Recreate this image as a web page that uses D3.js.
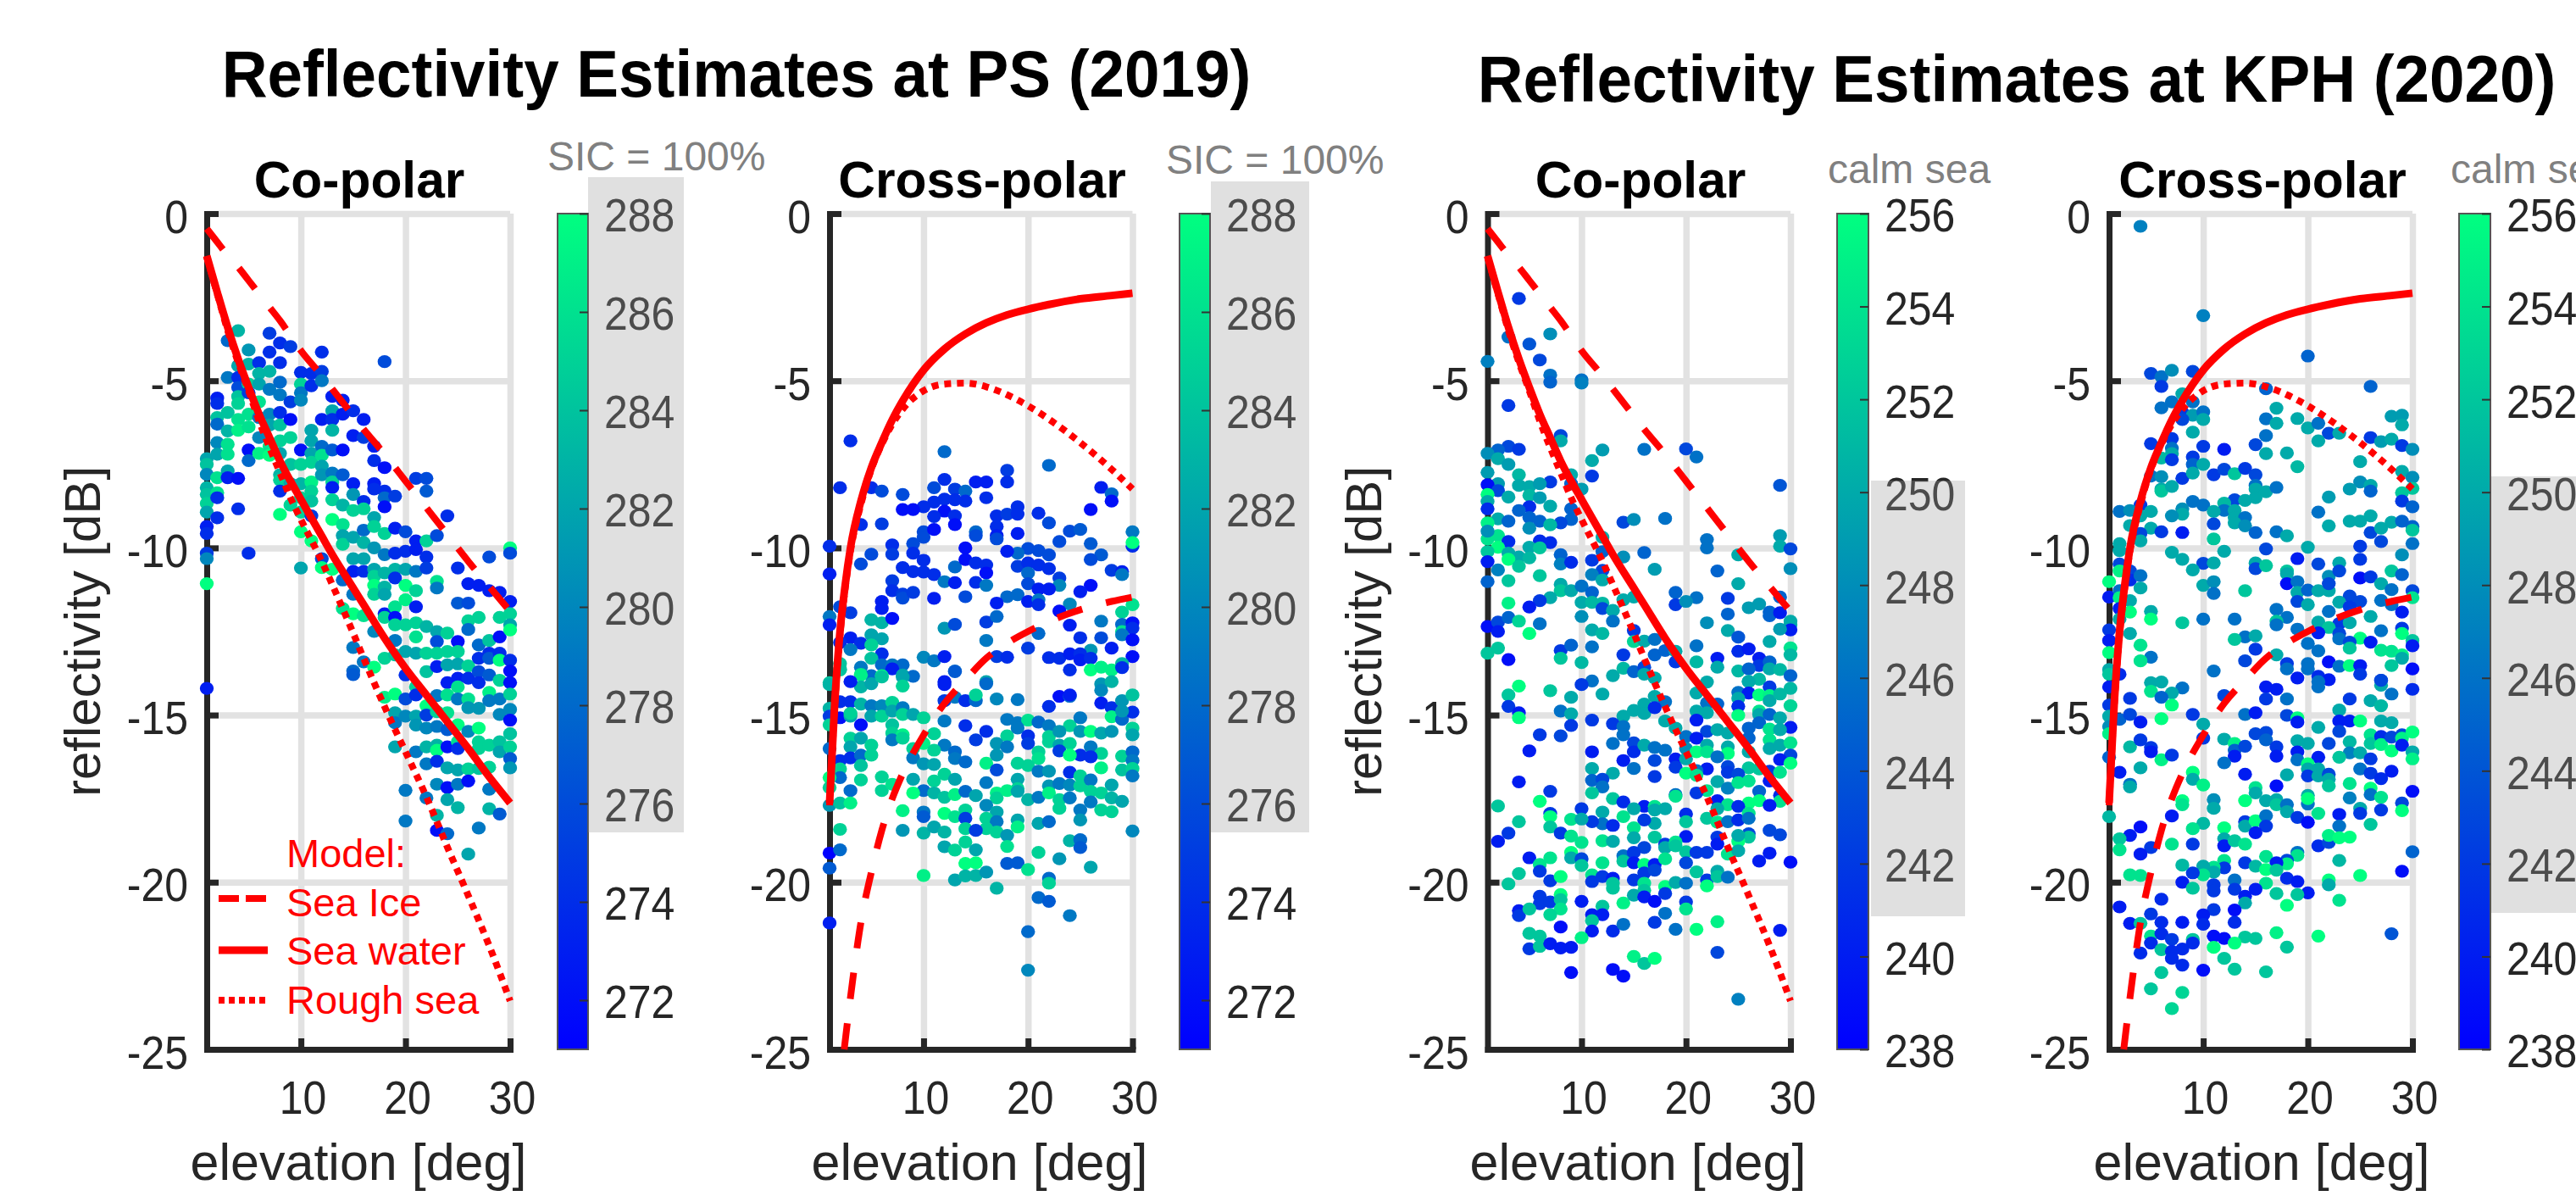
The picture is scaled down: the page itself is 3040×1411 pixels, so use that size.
<!DOCTYPE html>
<html>
<head>
<meta charset="utf-8">
<title>Reflectivity Estimates</title>
<script src="https://cdn.jsdelivr.net/npm/d3@7"></script>
<style>
  html, body { margin: 0; padding: 0; background: #fff; overflow: hidden; }
  svg { display: block; font-family: "Liberation Sans", Arial, sans-serif; }
</style>
</head>
<body>
<svg id="chart" width="3040" height="1411"></svg>
<script>
// axis ticks
const elevTicks = [10, 20, 30];
const reflTicks = [0, -5, -10, -15, -20, -25];
const psTempTicks = [272, 274, 276, 278, 280, 282, 284, 286, 288];
const kphTempTicks = [238, 240, 242, 244, 246, 248, 250, 252, 254, 256];

// model curves, co-polar
const coElev = [1, 2, 3, 4, 5, 6, 7, 8, 9, 10, 12, 13, 15, 16, 18, 20, 22, 24, 26, 28, 30];
const coSeaIce = [-0.45, -0.85, -1.25, -1.6, -2.0, -2.4, -2.8, -3.2, -3.65, -4.1, -4.85, -5.25, -6.05, -6.45, -7.2, -8.0, -8.8, -9.6, -10.4, -11.15, -11.9];
const coSeaWater = [-1.26, -2.35, -3.4, -4.35, -5.2, -6.0, -6.7, -7.4, -8.0, -8.55, -9.65, -10.2, -11.2, -11.7, -12.7, -13.6, -14.4, -15.2, -16.0, -16.85, -17.63];
const coRoughSea = [-1.3, -2.4, -3.5, -4.45, -5.3, -6.2, -7.0, -7.75, -8.5, -9.15, -10.4, -11.1, -12.55, -13.3, -14.75, -16.1, -17.45, -18.95, -20.4, -21.9, -23.55];

// model curves, cross-polar
const crossElev = [1, 1.5, 2, 2.5, 3, 4, 5, 6, 7, 8, 10, 12, 14, 16, 18, 20, 22, 25, 28, 30];
const crossSeaWater = [-17.63, -14.6, -12.5, -11.1, -10, -8.6, -7.6, -6.85, -6.17, -5.6, -4.68, -4.05, -3.6, -3.27, -3.03, -2.86, -2.72, -2.55, -2.45, -2.38];
const crossRoughSea = [-17.7, -14.7, -12.6, -11.2, -10.1, -8.7, -7.65, -6.9, -6.3, -5.85, -5.3, -5.1, -5.07, -5.18, -5.42, -5.75, -6.15, -6.85, -7.65, -8.24];
const crossIceElev = [2.4, 3, 4, 5, 6, 7, 8, 10, 12, 14, 16, 18, 20, 22, 25, 28, 30];
const crossSeaIce = [-25, -23.45, -21.2, -19.7, -18.45, -17.5, -16.75, -15.6, -14.65, -13.95, -13.3, -12.85, -12.5, -12.2, -11.85, -11.6, -11.47];

// PS 2019 co-polar: [elevation, reflectivity, temperature]
const psCoPoints = [
[1,-7.33,282],[1,-7.5,284],[1,-7.8,280],[1,-8.2,283],[1,-8.4,284],[1,-8.67,285],[1,-8.93,282],[1,-9.36,273],[1,-9.57,274],[1,-10.16,275],[1,-10.32,280],[1,-11.07,288],[1,-14.2,273],
[2,-5.52,273],[2,-5.68,274],[2,-6.1,284],[2,-6.3,278],[2,-6.85,280],[2,-7.2,282],[2,-7.9,286],[2,-8.35,286],[2,-8.5,274],[2,-9.1,274],
[3,-3.8,278],[3,-4.9,279],[3,-5.95,284],[3,-6.5,283],[3,-6.9,286],[3,-7.2,286],[3,-7.7,282],[3,-7.9,273],
[4,-3.5,283],[4,-4.55,282],[4,-4.9,274],[4,-5.2,276],[4,-5.47,284],[4,-5.68,285],[4,-6.16,286],[4,-6.48,287],[4,-7.92,272],[4,-8.83,274],
[5,-4.08,281],[5,-4.5,283],[5,-5.1,285],[5,-5.36,275],[5,-6.0,286],[5,-6.38,286],[5,-7.07,272],[5,-7.39,278],[5,-10.16,274],
[6,-4.46,274],[6,-4.78,283],[6,-5.1,282],[6,-5.63,286],[6,-6.1,279],[6,-6.7,280],[6,-7.17,287],
[7,-3.58,275],[7,-4.14,274],[7,-4.72,283],[7,-5.26,279],[7,-6.0,280],[7,-6.32,282],[7,-6.96,286],[7,-7.23,288],
[8,-3.87,274],[8,-4.46,274],[8,-5.04,278],[8,-5.42,279],[8,-5.95,274],[8,-6.32,284],[8,-6.8,285],[8,-7.17,282],[8,-7.81,283],[8,-7.97,285],[8,-8.3,274],[8,-9.0,288],
[9,-3.98,275],[9,-5.63,275],[9,-6.16,272],[9,-6.7,285],[9,-7.5,284],[9,-8.08,282],[9,-8.72,285],
[10,-4.75,274],[10,-5.1,285],[10,-5.36,279],[10,-5.58,280],[10,-7.07,272],[10,-7.5,285],[10,-8.08,283],[10,-8.5,285],[10,-8.93,285],[10,-9.52,288],[10,-10.6,282],
[11,-4.78,274],[11,-5.15,274],[11,-6.48,282],[11,-6.8,282],[11,-7.17,282],[11,-7.44,285],[11,-8.03,287],[11,-8.3,285],[11,-8.6,284],[11,-9.04,275],[11,-9.79,288],
[12,-4.14,274],[12,-4.72,275],[12,-5.0,279],[12,-6.16,273],[12,-6.96,278],[12,-7.23,286],[12,-7.55,282],[12,-7.81,281],[12,-10.32,276],[12,-10.59,288],
[13,-5.47,273],[13,-5.9,282],[13,-6.16,274],[13,-6.48,283],[13,-7.07,277],[13,-7.76,279],[13,-8.03,285],[13,-8.19,273],[13,-8.56,285],[13,-9.15,288],[13,-10.64,288],
[14,-5.58,273],[14,-6.0,273],[14,-7.07,272],[14,-7.81,277],[14,-8.72,283],[14,-9.3,286],[14,-9.63,282],[14,-9.89,285],[14,-10.96,278],[14,-11.81,286],
[15,-5.9,274],[15,-6.64,273],[15,-8.08,273],[15,-8.4,281],[15,-8.88,285],[15,-9.68,282],[15,-10.32,282],[15,-10.7,273],[15,-11.39,279],[15,-11.97,288],[15,-12.98,279],[15,-13.68,278],[15,-13.79,277],
[16,-6.16,273],[16,-6.7,275],[16,-8.61,274],[16,-8.83,285],[16,-9.47,278],[16,-9.84,283],[16,-10.32,282],[16,-10.7,274],[16,-12.03,286],[16,-13.41,279],
[17,-6.96,273],[17,-7.39,274],[17,-8.08,273],[17,-8.24,274],[17,-9.09,282],[17,-9.36,285],[17,-10.0,281],[17,-10.64,282],[17,-10.85,285],[17,-11.12,288],[17,-11.39,285],[17,-12.5,280],[17,-13.57,288],
[18,-4.43,276],[18,-7.6,272],[18,-8.3,274],[18,-8.5,278],[18,-8.77,272],[18,-9.57,285],[18,-10.2,279],[18,-10.75,283],[18,-11.17,283],[18,-11.39,282],[18,-11.97,273],[18,-12.08,285],[18,-13.3,285],[18,-14.47,287],
[19,-8.45,275],[19,-9.41,273],[19,-10.16,274],[19,-10.64,283],[19,-10.9,274],[19,-11.76,286],[19,-12.08,272],[19,-12.3,285],[19,-12.77,279],[19,-13.2,284],[19,-14.37,288],[19,-14.93,282],[19,-15.23,279],[19,-15.95,282],
[20,-9.52,276],[20,-10.1,274],[20,-10.64,282],[20,-11.12,288],[20,-11.55,287],[20,-12.3,285],[20,-13.1,282],[20,-13.8,274],[20,-14.52,276],[20,-15.03,280],[20,-17.25,279],[20,-18.17,279],
[21,-9.79,273],[21,-10.05,273],[21,-10.7,279],[21,-11.28,285],[21,-11.76,273],[21,-12.24,285],[21,-12.66,286],[21,-13.15,282],[21,-14.16,285],[21,-14.4,274],[21,-15.03,282],[21,-15.3,281],[21,-16.1,279],[21,-7.92,275],
[22,-7.92,276],[22,-8.3,277],[22,-9.79,285],[22,-10.27,274],[22,-10.6,275],[22,-12.35,283],[22,-13.15,285],[22,-13.7,284],[22,-14.72,288],[22,-15,275],[22,-15.39,280],[22,-15.95,283],[22,-16.46,279],[22,-17.48,279],
[23,-9.63,276],[23,-11.0,286],[23,-11.2,279],[23,-12.5,282],[23,-12.8,276],[23,-13.15,285],[23,-13.55,273],[23,-14.42,279],[23,-14.9,285],[23,-15.34,279],[23,-15.9,283],[23,-16.05,288],[23,-16.38,274],[23,-17.07,280],[23,-18.0,283],[23,-18.45,272],
[24,-9.04,274],[24,-12.55,285],[24,-13.1,285],[24,-13.5,282],[24,-14.03,273],[24,-14.4,286],[24,-14.93,286],[24,-15.44,277],[24,-15.95,272],[24,-16.58,282],[24,-17.17,272],[24,-17.53,282],[24,-18.55,278],
[25,-10.6,274],[25,-11.65,277],[25,-12.8,272],[25,-13.1,285],[25,-13.47,282],[25,-13.9,273],[25,-14.16,286],[25,-14.52,279],[25,-15.29,288],[25,-15.8,286],[25,-16,274],[25,-16.64,282],[25,-17.07,279],[25,-17.77,283],
[26,-11.07,273],[26,-11.65,276],[26,-12.18,285],[26,-12.44,278],[26,-13.53,285],[26,-13.9,274],[26,-14.52,286],[26,-14.78,281],[26,-15.49,280],[26,-16.61,285],[26,-16.97,272],[26,-19.16,282],
[27,-11.12,273],[27,-12.08,285],[27,-12.9,278],[27,-13.3,274],[27,-13.7,276],[27,-14.03,274],[27,-14.8,281],[27,-15.39,288],[27,-15.8,285],[27,-16,285],[27,-16.6,284],[27,-18.38,279],
[28,-10.27,276],[28,-11.28,273],[28,-12.77,284],[28,-13.15,274],[28,-13.3,277],[28,-13.8,277],[28,-14.32,287],[28,-14.57,279],[28,-15.9,285],[28,-16.56,285],[28,-17.22,279],[28,-17.8,283],
[29,-11.33,273],[29,-12.08,285],[29,-12.66,272],[29,-13.15,274],[29,-13.36,288],[29,-13.96,285],[29,-14.52,279],[29,-14.98,280],[29,-15.8,284],[29,-16.1,282],[29,-17.96,277],
[30,-10.0,288],[30,-10.16,276],[30,-11.6,273],[30,-11.97,285],[30,-12.3,282],[30,-12.45,288],[30,-13.36,274],[30,-13.68,272],[30,-14.03,272],[30,-14.37,285],[30,-14.83,280],[30,-15.15,272],[30,-15.56,284],[30,-15.95,285],[30,-16.3,277],[30,-16.58,281]
];

// PS 2019 cross-polar
const psCrossPoints = [
[3,-6.8,274],[2,-8.2,274],[5,-8.2,274],[6,-8.3,276],[12,-7.12,278],[12,-7.95,274],[11,-8.2,276],[13,-8.24,275],[14,-8.3,278],[15,-8.03,273],[16,-8.03,273],[18,-7.68,275],[18,-8.03,274],[22,-7.53,278],[27,-8.19,273],[28,-8.38,278],[28,-8.6,272],
[8,-8.4,276],[16,-8.5,274],[14,-8.6,274],[13,-8.56,274],[12,-8.54,274],[11,-8.63,274],[10,-8.77,274],[9,-8.85,272],[8,-8.85,272],[12,-8.9,272],[11,-9.06,274],[13,-9.04,274],[13,-9.3,272],[17,-9.04,274],[18,-8.99,275],[19,-8.77,274],[19,-8.99,274],[21,-8.96,274],[22,-9.25,276],[26,-8.85,272],
[4,-9.3,274],[6,-9.28,275],[17,-9.36,274],[17,-9.63,273],[17,-9.73,276],[10,-9.52,276],[10,-9.68,276],[11,-9.45,272],[15,-9.52,278],[15,-9.63,276],[19,-9.57,273],[24,-9.5,276],[25,-9.45,277],[23,-9.81,276],
[1,-9.95,274],[7,-9.91,274],[7,-10.19,275],[9,-9.87,276],[9,-10.16,274],[5,-10.19,276],[14,-10,272],[20,-10.02,276],[21,-10.08,276],[19,-10.16,278],[18,-10.1,273],[22,-10.21,276],[26,-9.87,277],[27,-10.21,277],[26,-10.35,276],[30,-9.52,279],[30,-9.95,274],[30,-9.84,288],
[4,-10.48,276],[8,-10.59,274],[9,-10.71,274],[10,-10.37,274],[10,-10.72,274],[11,-10.8,274],[13,-10.57,278],[14,-10.35,272],[15,-10.45,274],[16,-10.51,274],[16,-10.75,272],[19,-10.55,275],[20,-10.45,274],[21,-10.51,274],[22,-10.62,274],[20,-10.75,278],[28,-10.67,275],[29,-10.71,273],[29,-10.8,279],[1,-10.78,273],
[7,-10.98,275],[7,-11.28,274],[12,-11.01,279],[13,-11.04,273],[15,-11.03,274],[16,-11.12,279],[20,-11.07,276],[23,-10.9,275],[23,-11.12,280],[21,-11.23,273],[22,-11.23,273],[26,-11.12,272],[25,-11.31,273],
[8,-11.38,275],[8,-11.5,276],[9,-11.33,275],[6,-11.6,273],[6,-11.81,273],[11,-11.51,273],[14,-11.46,276],[18,-11.46,278],[19,-11.4,278],[20,-11.6,273],[21,-11.55,279],[21,-11.7,274],[17,-11.65,273],[24,-11.68,280],[23,-11.89,272],
[2,-11.76,276],[3,-11.94,275],[1,-12.05,279],[1,-12.3,273],[5,-12.15,283],[6,-12.24,283],[7,-12.11,272],[12,-12.4,281],[13,-12.29,276],[16,-12.22,275],[17,-12.05,278],[24,-12.31,273],[27,-12.19,279],[29,-11.92,285],[30,-11.7,286],[29,-12.29,278],[30,-12.24,272],[29,-12.5,286],[30,-12.4,274],[29,-12.6,279],
[5,-12.6,282],[6,-12.72,282],[3,-12.69,273],[4,-12.85,274],[2,-12.83,274],[3,-13.04,279],[5,-12.9,285],[16,-12.77,279],[21,-12.56,278],[25,-12.69,274],[27,-12.69,276],[30,-12.75,272],[20,-13.0,275],[26,-13.06,281],[28,-13.0,273],
[6,-13.17,274],[5,-13.3,284],[10,-13.27,280],[11,-13.38,279],[12,-13.25,273],[17,-13.25,275],[18,-13.27,274],[22,-13.28,274],[23,-13.3,274],[24,-13.17,273],[25,-13.17,274],[25,-13.35,273],[26,-13.3,274],[30,-13.25,272],
[2,-13.46,284],[2,-13.63,284],[6,-13.5,278],[7,-13.5,279],[8,-13.5,278],[7,-13.62,273],[4,-13.57,279],[4,-13.78,286],[5,-13.82,278],[6,-13.82,287],[8,-13.8,282],[9,-13.84,278],[13,-13.68,278],[24,-13.65,274],[26,-13.65,288],[27,-13.57,287],[28,-13.65,287],[29,-13.46,283],[29,-13.58,274],[1,-14.03,284],[12,-14.0,273],[16,-14,282],[27,-14.07,281],[28,-14.0,283],
[1,-14.09,283],[2,-13.65,284],[4,-13.8,287],[4,-14.16,283],[5,-14.06,282],[6,-13.86,284],[8,-13.86,282],[8,-14.13,285],[3,-14.0,273],[13,-13.7,277],[12,-14.09,273],[16,-14.06,278],[12,-14.57,275],[13,-14.47,279],[14,-14.57,274],[15,-14.57,278],[15,-14.4,285],[17,-14.52,280],[19,-14.54,279],[22,-14.74,274],[23,-14.44,272],[24,-14.44,278],[24,-14.4,273],[27,-14.64,273],[27,-14.26,280],[28,-14.78,274],[29,-14.57,281],[30,-14.4,284],
[1,-14.8,283],[1,-15.03,275],[2,-14.6,274],[2,-15.08,272],[3,-14.6,274],[3,-15.03,282],[4,-14.67,283],[4,-15.29,272],[5,-14.72,279],[5,-15.03,282],[6,-14.72,280],[6,-15.03,285],[7,-14.62,285],[7,-14.88,282],[8,-14.78,279],[8,-14.98,285],[9,-14.98,282],[10,-15.08,285],[12,-15.18,279],[14,-15.32,274],[18,-15.13,279],[19,-15.23,279],[20,-15.15,286],[21,-15.21,278],[22,-15.32,279],[24,-15.32,285],[25,-15.08,279],[28,-15.05,287],[29,-15.13,278],[30,-14.91,274],[29,-14.88,281],
[1,-15.29,285],[3,-14.95,285],[7,-15.29,284],[7,-15.54,285],[8,-15.59,287],[11,-15.56,285],[16,-15.49,274],[15,-15.74,275],[18,-15.62,285],[19,-15.39,279],[20,-15.62,274],[22,-15.64,285],[23,-15.49,281],[25,-15.49,281],[26,-15.49,288],[27,-15.54,282],[28,-15.49,281],[30,-15.39,285],[30,-15.59,282],
[3,-15.69,285],[3,-15.95,282],[4,-15.69,282],[5,-15.9,285],[7,-15.74,279],[8,-15.69,285],[9,-16,285],[10,-15.85,287],[12,-15.9,279],[13,-16.1,278],[17,-15.85,281],[18,-15.95,279],[20,-15.85,275],[22,-15.8,285],[23,-15.9,282],[24,-15.85,285],[25,-16.2,274],[26,-15.95,279],[27,-16.15,285],
[1,-16.0,278],[3,-16.28,274],[4,-16.2,278],[5,-16.2,285],[9,-16.28,279],[11,-16.05,285],[13,-16.3,279],[14,-16.4,278],[16,-16.44,287],[17,-16.2,281],[19,-16.44,285],[21,-16.1,285],[21,-16.3,286],[23,-16.07,275],[24,-16.2,288],[26,-16.25,274],[29,-16.23,285],[30,-16.1,278],[30,-16.36,279],
[2,-16.36,274],[2,-16.61,285],[4,-16.51,284],[10,-16.46,281],[11,-16.48,282],[17,-16.64,276],[20,-16.51,285],[21,-16.68,279],[22,-16.68,281],[27,-16.58,287],[29,-16.64,284],[30,-16.6,285],[30,-16.82,279],[24,-16.71,274],
[2,-16.87,278],[1,-16.87,288],[1,-17.17,285],[3,-17.26,278],[4,-16.94,285],[6,-16.85,285],[6,-17.26,285],[7,-17.07,286],[9,-16.92,282],[10,-17.26,278],[11,-16.97,285],[12,-16.77,285],[13,-16.92,282],[16,-17.02,279],[19,-16.92,282],[19,-17.2,285],[22,-17.12,281],[23,-17.05,279],[24,-17.09,280],[25,-16.82,285],[25,-17.12,285],[26,-16.94,279],[28,-17.09,282],
[9,-17.33,288],[11,-17.33,283],[12,-17.46,284],[13,-17.38,287],[14,-17.28,278],[15,-17.41,282],[17,-17.33,287],[17,-17.48,285],[18,-17.26,287],[19,-17.28,282],[20,-17.53,283],[21,-17.46,279],[22,-17.33,287],[23,-17.53,285],[24,-17.48,279],[26,-17.28,285],[27,-17.33,285],[28,-17.48,283],[29,-17.58,282],
[1,-17.7,281],[2,-17.63,284],[3,-17.63,287],[16,-17.7,280],[23,-17.79,285],[25,-17.84,279],[26,-17.6,279],[27,-17.84,285],[28,-17.89,285],[8,-17.86,287],[10,-17.9,279],[10,-18.04,277],[12,-17.94,288],[13,-18.04,286],[14,-17.84,285],[14,-18.09,275],[17,-17.9,282],
[16,-18.09,285],[17,-18.19,279],[16,-18.4,285],[19,-18.14,282],[19,-18.35,287],[21,-18.24,282],[22,-18.19,278],[25,-18.14,281],
[2,-18.42,285],[8,-18.45,281],[10,-18.53,283],[11,-18.35,282],[12,-18.5,283],[14,-18.4,285],[15,-18.45,275],[17,-18.5,285],[18,-18.6,281],[30,-18.47,280],
[14,-18.8,285],[12,-18.94,282],[13,-19.04,285],[15,-19.03,282],[18,-18.93,286],[21,-19.11,285],[23,-19.3,281],[24,-18.76,283],[25,-18.73,278],[25,-18.96,277],
[1,-19.13,271],[2,-19.03,278],[1,-19.58,277],[14,-19.44,288],[15,-19.42,288],[18,-19.44,277],[19,-19.42,277],[20,-19.62,286],[26,-19.55,282],
[10,-19.8,287],[13,-19.93,282],[14,-19.81,283],[15,-19.8,283],[16,-19.7,281],[22,-19.88,278],[22,-20.03,285],[17,-20.18,283],[21,-20.46,278],[22,-20.57,277],[24,-21.0,279],[1,-21.22,273],[20,-21.48,278],[20,-22.63,280]
];

// KPH 2020 co-polar
const kphCoPoints = [
[4,-2.54,242],[3,-3.69,246],[7,-3.6,248],[5,-3.9,244],[6,-4.38,243],[1,-4.42,247],[7,-4.83,246],[7,-5.04,245],[10,-4.97,246],[10,-5.07,247],[3,-5.74,242],
[8,-6.64,243],[8,-6.8,250],[3,-6.96,243],[2,-7.07,245],[4,-7.05,242],[1,-7.17,248],[2,-7.33,250],[3,-7.5,249],[12,-7.07,249],[11,-7.39,250],[16,-7.05,246],[20,-7.04,243],[21,-7.28,246],
[1,-7.74,249],[4,-7.81,251],[4,-8.13,250],[9,-7.81,250],[11,-7.85,242],[7,-8.03,242],[2,-8.08,249],[1,-8.11,239],[2,-8.29,243],[5,-8.17,250],[6,-8.08,249],[9,-8.08,245],[10,-8.24,249],[29,-8.13,244],
[1,-8.4,256],[1,-8.61,250],[3,-8.48,250],[5,-8.43,251],[6,-8.5,249],[1,-8.83,241],[5,-8.77,241],[7,-8.75,250],[4,-8.88,245],[9,-8.83,245],[5,-9.09,245],[9,-9.15,245],[2,-9.13,250],[3,-9.2,245],[6,-9.2,245],[8,-9.25,243],[7,-9.31,251],[14,-9.23,243],[15,-9.15,248],[18,-9.12,246],[5,-9.41,248],
[1,-9.25,255],[2,-9.63,254],[1,-9.73,254],[1,-9.5,248],[12,-9.68,250],[22,-9.75,246],[3,-9.81,241],[6,-9.79,241],[7,-9.84,241],[29,-9.63,249],[29,-9.95,250],[30,-10.03,243],[22,-10,246],[2,-9.98,256],[5,-9.98,250],[6,-10,252],[1,-10.11,252],[1,-10.41,240],[3,-10.16,250],[4,-10.27,250],[5,-10.3,251],[3,-10.34,256],[12,-10.11,245],[16,-10.14,245],[8,-10.2,245],[8,-10.48,247],[9,-10.43,241],[11,-10.37,242],[14,-10.27,248],[4,-10.55,252],[25,-10.21,250],
[2,-10.66,247],[12,-10.67,243],[17,-10.64,249],[11,-10.8,247],[12,-10.96,250],[6,-10.83,252],[23,-10.69,245],[30,-10.62,248],[1,-11.01,245],[3,-10.98,252],[25,-11.07,250],
[8,-11.09,250],[8,-11.28,252],[9,-11.28,250],[10,-11.14,246],[11,-11.33,245],[19,-11.33,245],[21,-11.49,246],[24,-11.51,242],[19,-11.7,242],[20,-11.6,248],[29,-11.47,245],[7,-11.49,250],[6,-11.58,242],[5,-11.77,240],[3,-11.65,255],[10,-11.63,250],[11,-11.63,251],[12,-11.65,251],[12,-11.81,243],[13,-11.87,250],[14,-11.55,250],[15,-11.47,250],
[26,-11.79,249],[27,-11.68,249],[28,-11.92,245],[28,-12.03,245],[29,-11.94,240],[24,-11.98,245],[30,-12.19,250],[30,-12.3,250],[30,-12.45,240],[29,-12.43,249],[22,-12.24,248],[24,-12.47,250],[25,-12.67,244],
[1,-12.35,239],[2,-12.22,243],[2,-12.5,240],[3,-12.08,245],[4,-12.19,253],[5,-12.56,256],[6,-12.27,246],[10,-12.05,248],[13,-12.19,246],[11,-12.45,250],[12,-12.56,251],[15,-12.47,242],
[1,-13.15,252],[2,-13.0,252],[3,-13.34,239],[8,-13.07,242],[9,-12.91,245],[11,-12.96,246],[15,-12.8,253],[16,-12.79,250],[17,-12.74,246],[14,-13.2,242],[17,-13.2,245],[18,-13.07,245],[19,-13.09,250],[19,-13.41,242],[21,-12.93,246],[21,-13.41,251],[23,-13.3,240],[23,-13.57,250],[25,-13.09,241],[26,-13.02,240],[28,-12.8,250],[30,-12.99,254],[30,-13.2,251],[27,-13.3,240],[27,-13.52,242],[28,-13.41,245],[28,-13.62,250],[29,-13.64,251],[25,-13.68,251],[26,-13.62,245],[8,-13.3,252],[10,-13.43,251],[13,-13.82,250],[14,-13.6,251],[15,-13.7,245],[16,-13.57,243],[16,-13.78,250],[17,-13.89,250],[30,-13.82,245],[11,-13.98,246],[10,-14.09,242],[26,-13.99,250],[27,-13.93,251],
[28,-14.16,242],[30,-14.2,251],[22,-14.01,250],[12,-14.37,250],[9,-14.47,250],[4,-14.13,256],[7,-14.27,252],[3,-14.4,252],[26,-14.0,250],[25,-14.32,246],[26,-14.34,240],[27,-14.4,256],[28,-14.42,255],[28,-14.57,250],[29,-14.37,251],[30,-14.72,253],[17,-14.44,250],[18,-14.6,246],[21,-14.34,250],[22,-14.64,246],[23,-14.67,245],[25,-14.5,250],[3,-14.74,242],[4,-14.93,240],[4,-15.08,256],[8,-14.88,246],[9,-14.96,250],[16,-14.67,250],[15,-14.86,250],[16,-14.95,250],[17,-14.78,241],[14,-15.03,250],[21,-14.88,250],[22,-14.93,250],[25,-14.74,241],[25,-15.01,256],[27,-14.88,254],[27,-14.98,250],[28,-14.98,245],[29,-15.08,250],[30,-15.37,240],
[11,-15.15,242],[13,-15.26,242],[9,-15.31,242],[14,-15.34,246],[14,-15.59,246],[18,-15.18,250],[19,-15.39,250],[21,-15.15,240],[22,-15.49,243],[23,-15.44,250],[24,-15.54,250],[26,-15.39,245],[26,-15.69,245],[27,-15.23,245],[28,-15.42,254],[29,-15.44,250],[28,-15.74,254],[6,-15.59,242],[8,-15.62,243],[20,-15.64,246],[21,-15.69,240],
[5,-16.07,240],[13,-15.85,246],[15,-15.83,243],[15,-16.1,241],[16,-15.9,250],[17,-15.97,246],[18,-16.05,246],[11,-16.1,240],[20,-16.0,248],[22,-15.9,250],[24,-15.95,250],[26,-16.1,250],[28,-16,250],[29,-15.9,250],[30,-15.83,254],[30,-16.2,243],[21,-16.1,256],[22,-16.1,254],[24,-16.15,256],[23,-16.25,246],
[14,-16.36,240],[17,-16.36,243],[19,-16.31,240],[20,-16.31,250],[19,-16.56,242],[29,-16.33,240],[30,-16.44,256],[11,-16.6,250],[15,-16.6,246],[13,-16.74,250],[24,-16.54,243],[24,-16.71,242],[22,-16.61,240],[21,-16.66,246],[26,-16.58,252],[25,-16.77,243],[27,-16.61,252],[28,-16.68,242],[29,-16.71,254],[20,-16.74,256],[21,-16.8,254],
[11,-16.95,245],[12,-16.92,243],[17,-16.84,242],[4,-17,240],[12,-17.15,246],[11,-17.33,252],[23,-16.99,250],[24,-17.19,247],[25,-17.02,254],[26,-16.97,254],[28,-16.97,240],[27,-17.28,245],[7,-17.28,242],[22,-17.26,254],[21,-17.33,242],[19,-17.38,246],[19,-17.43,254],[13,-17.5,252],[14,-17.6,241],[6,-17.58,256],[2,-17.72,252],[23,-17.56,240],[29,-17.4,241],[29,-17.58,254],[27,-17.56,256],[26,-17.63,256],[24,-17.68,254],[28,-17.7,240],[25,-17.73,241],
[7,-17.94,242],[10,-17.8,242],[16,-17.73,240],[17,-17.73,254],[17,-17.84,250],[18,-17.8,250],[15,-17.8,250],[12,-17.9,250],[14,-18.04,254],[12,-18.25,246],[13,-18.3,241],[11,-18.19,242],[20,-17.96,241],[20,-18.19,252],[17,-18.24,250],[16,-18.14,242],[15,-18.37,254],[22,-18.09,252],[23,-17.8,250],[23,-18.2,254],[24,-18.19,246],[25,-18.14,241],[26,-17.94,254],[26,-18.09,246],[4,-18.19,252],[7,-18.04,256],[7,-18.35,252],[9,-18.12,254],[10,-18.11,250],
[2,-18.78,240],[3,-18.53,242],[8,-18.53,242],[9,-18.62,254],[10,-18.81,254],[12,-18.76,254],[13,-18.78,250],[15,-18.67,250],[17,-18.65,252],[20,-18.63,240],[26,-18.55,243],[26,-18.65,252],[25,-18.78,256],[25,-18.6,250],[23,-18.65,242],[28,-18.45,243],[29,-18.58,243],
[16,-18.96,243],[18,-18.86,242],[18,-18.96,250],[19,-18.8,254],[19,-18.91,252],[23,-18.86,240],[9,-19.11,256],[9,-19.27,250],[5,-19.27,240],[7,-19.27,254],[10,-19.3,243],[12,-19.42,254],[14,-19.21,246],[14,-19.37,252],[15,-19.11,242],[15,-19.42,240],[16,-19.47,256],[17,-19.47,240],[18,-19.3,254],[20,-19.09,252],[20,-19.42,243],[21,-19.11,242],[22,-19.11,242],[24,-19.16,254],[25,-19.06,250],[27,-19.37,240],[28,-19.13,240],[30,-19.4,239],
[6,-19.47,254],[6,-19.67,242],[10,-19.5,252],[11,-19.78,254],[11,-19.98,242],[12,-19.83,242],[13,-19.88,240],[13,-20.03,252],[13,-20.18,252],[4,-19.74,252],[3,-20.05,252],[7,-19.96,242],[8,-19.83,256],[15,-19.93,242],[16,-19.72,242],[16,-20.03,254],[16,-20.24,252],[17,-19.64,243],[18,-20.13,256],[19,-20.01,250],[20,-20.03,246],[21,-19.69,252],[22,-19.93,242],[22,-20.11,256],[23,-19.67,250],[23,-19.83,252],[24,-19.85,246],
[6,-20.42,242],[6,-20.64,242],[7,-20.59,242],[8,-20.37,256],[8,-20.52,252],[8,-20.8,254],[10,-20.57,240],[12,-20.72,252],[14,-20.62,255],[15,-20.39,250],[16,-20.44,240],[17,-20.57,239],[18,-20.34,242],[20,-20.59,242],[20,-20.8,254],[4,-20.85,240],[4,-21.0,242],[5,-20.8,252],[7,-20.97,253],[11,-20.97,240],[12,-20.97,240],[18,-20.93,246],
[8,-21.34,239],[11,-21.15,252],[11,-21.46,240],[13,-21.46,241],[14,-21.26,246],[17,-21.2,242],[19,-21.41,246],[21,-21.41,256],[23,-21.18,255],[29,-21.44,240],[5,-21.53,252],[6,-21.61,252],[10,-21.66,255],
[5,-21.99,242],[6,-21.92,252],[7,-21.84,240],[8,-21.97,240],[9,-21.95,240],[15,-22.22,255],[16,-22.43,252],[17,-22.28,256],[23,-22.1,243],[13,-22.61,239],[14,-22.81,239],[9,-22.7,239],[25,-23.5,247]
];

// KPH 2020 cross-polar
const kphCrossPoints = [
[4,-0.38,247],[10,-3.05,247],[20,-4.26,245],[5,-4.78,243],[6,-4.88,246],[7,-4.69,248],[9,-4.72,243],[6,-5.17,242],[16,-5.24,245],[26,-5.17,245],[8,-5.39,250],[7,-5.63,246],[6,-5.81,246],[9,-5.63,246],[8,-5.95,242],[9,-6.03,249],[10,-5.93,246],[10,-6.16,250],[8,-6.16,243],[17,-5.82,250],[16,-6.14,246],[17,-6.27,250],[19,-6.13,250],[20,-6.41,250],[21,-6.27,246],[22,-6.57,243],[23,-6.57,250],[28,-6.06,249],[29,-6.03,249],[29,-6.32,250],
[9,-6.54,250],[7,-6.73,242],[16,-6.64,246],[5,-6.88,242],[7,-7.02,246],[7,-7.18,250],[15,-6.91,243],[21,-6.8,250],[26,-6.7,242],[27,-6.82,249],[28,-6.75,250],[10,-6.96,242],[12,-7.05,240],[29,-6.94,242],[30,-7.05,248],
[6,-7.31,251],[7,-7.36,242],[9,-7.28,242],[9,-7.5,245],[10,-7.5,250],[16,-7.18,250],[18,-7.16,250],[19,-7.57,251],[25,-7.42,250],[8,-7.92,242],[9,-7.76,250],[11,-7.81,242],[12,-7.65,243],[13,-7.78,252],[14,-7.62,242],[15,-7.81,243],[5,-7.85,246],[6,-7.87,248],[29,-7.71,250],[30,-7.89,248],
[6,-8.24,250],[6,-8.3,252],[7,-8.16,250],[15,-8.13,246],[15,-8.24,250],[15,-8.5,250],[16,-8.32,250],[17,-8.19,246],[25,-8.03,248],[24,-8.24,249],[26,-8.13,250],[26,-8.3,245],[29,-8.35,252],[30,-8.22,252],[22,-8.48,249],[29,-8.6,242],
[13,-8.56,243],[14,-8.58,250],[9,-8.61,246],[8,-8.83,248],[10,-8.72,246],[12,-8.66,251],[12,-8.88,246],[11,-8.91,250],[13,-8.88,250],[4,-8.72,242],[2,-8.91,246],[3,-8.88,248],[5,-8.91,250],[8,-8.99,250],[7,-9.04,248],[13,-9.09,250],[14,-9.09,246],[21,-8.93,246],[30,-8.77,245],
[11,-9.28,243],[13,-9.25,250],[14,-9.34,248],[3,-9.33,250],[4,-9.04,250],[5,-9.41,250],[6,-9.52,242],[8,-9.54,240],[15,-9.54,245],[17,-9.52,246],[18,-9.64,250],[22,-9.34,250],[24,-9.2,250],[25,-9.2,250],[26,-9.04,250],[26,-9.54,243],[27,-9.41,250],[28,-9.23,250],[29,-9.2,245],[30,-9.36,245],[30,-9.47,252],[27,-9.81,243],[4,-9.57,243],[4,-9.79,250],
[11,-9.73,252],[2,-9.87,250],[2,-10.08,250],[12,-10.1,250],[7,-10.13,250],[8,-10.34,250],[20,-9.98,250],[16,-10.03,243],[25,-9.95,242],[30,-9.87,246],[29,-10.21,248],[19,-10.32,240],[21,-10.48,243],[25,-10.34,242],[10,-10.46,243],[11,-10.45,250],[15,-10.45,250],[23,-10.45,250],[15,-10.62,243],[16,-10.53,252],
[2,-10.48,243],[2,-10.69,255],[3,-10.69,243],[3,-10.96,241],[4,-10.83,246],[4,-11.2,250],[9,-10.66,250],[18,-10.69,252],[18,-10.77,250],[18,-11.07,239],[22,-10.85,248],[23,-10.69,243],[25,-10.9,239],[26,-10.87,242],[28,-10.69,252],[29,-10.8,245],
[1,-11.01,256],[1,-11.47,240],[2,-11.28,246],[2,-11.49,255],[3,-11.58,250],[10,-11.12,250],[11,-11.01,248],[11,-11.36,246],[14,-11.28,252],[19,-11.01,246],[19,-11.33,250],[20,-11.26,245],[21,-11.28,250],[22,-11.28,250],[22,-11.07,243],[24,-11.44,243],[27,-11.07,250],[28,-11.25,246],[30,-11.28,243],[30,-11.49,254],[19,-11.6,243],[20,-11.7,250],[23,-11.62,250],[25,-11.6,243],[27,-11.57,246],[28,-11.7,246],[24,-11.76,242],[29,-11.92,240],
[2,-11.81,240],[2,-12.13,250],[3,-11.92,256],[5,-11.9,250],[5,-12.13,256],[8,-12.24,252],[10,-12.13,246],[13,-12.13,246],[17,-11.84,246],[18,-12.08,246],[17,-12.19,252],[17,-12.3,246],[22,-11.9,246],[21,-12.22,250],[23,-12.26,242],[24,-12.24,250],[26,-12.05,250],[19,-12.43,246],[22,-12.38,252],[29,-12.4,242],[27,-12.48,246],[29,-12.56,256],
[1,-12.45,242],[1,-12.77,240],[3,-12.56,250],[14,-12.66,246],[13,-12.74,252],[15,-12.63,250],[21,-12.54,240],[23,-12.56,243],[20,-12.86,246],[23,-12.72,246],[25,-12.7,256],[24,-12.82,243],[24,-13,252],[26,-12.82,240],[30,-12.77,252],[30,-12.93,240],[4,-12.91,254],
[1,-13.13,256],[5,-13.27,246],[4,-13.38,254],[15,-13.03,242],[14,-13.38,243],[17,-13.2,250],[21,-13.08,246],[22,-13.41,239],[27,-13.06,254],[28,-13.09,254],[29,-13.2,255],[29,-13.3,250],[18,-13.46,242],[18,-13.62,246],[19,-13.89,240],[20,-13.46,246],[20,-13.62,246],[23,-13.54,246],[24,-13.52,256],[25,-13.52,240],[25,-13.78,242],[28,-13.52,252],[30,-13.62,239],[21,-13.84,241],[22,-13.94,240],[21,-14.0,246],[1,-13.64,250],[1,-13.78,252],[2,-13.78,241],[11,-13.68,246],[27,-13.96,242],
[1,-14.16,240],[3,-14.5,242],[5,-14.03,250],[6,-14.01,250],[5,-14.29,254],[8,-14.19,246],[7,-14.34,250],[6,-14.47,245],[7,-14.7,256],[12,-14.42,243],[16,-14.16,240],[17,-14.23,240],[16,-14.52,242],[18,-14.52,246],[21,-14.16,246],[27,-14.11,250],[27,-13.96,243],[28,-14.37,246],[30,-14.23,241],[24,-14.52,242],[26,-14.57,250],[27,-14.72,251],[23,-14.85,250],
[1,-14.7,242],[1,-15.03,250],[2,-15.13,245],[3,-14.98,243],[4,-15.21,240],[6,-15.11,256],[9,-14.98,242],[10,-15.27,250],[14,-14.98,246],[15,-14.93,240],[18,-15.01,243],[19,-15.08,256],[19,-15.21,240],[23,-15.18,240],[24,-15.18,240],[25,-15.18,256],[27,-15.18,250],[28,-15.23,250],[21,-15.37,250],
[1,-15.34,248],[1,-15.56,255],[1,-16.26,245],[3,-15.95,251],[4,-15.74,242],[5,-15.97,242],[5,-16.1,240],[6,-16.34,255],[7,-16.2,242],[10,-15.69,242],[12,-15.72,250],[13,-15.85,255],[13,-16.05,245],[13,-16.23,240],[14,-15.93,243],[15,-15.56,243],[16,-15.52,243],[16,-15.74,245],[17,-15.95,242],[17,-16.23,240],[19,-15.77,250],[19,-16.1,240],[20,-15.85,250],[22,-15.85,243],[23,-15.49,243],[24,-15.8,251],[24,-16.13,247],[25,-16.13,250],[26,-15.59,254],[26,-15.85,252],[27,-15.64,241],[27,-15.88,255],[28,-15.66,243],[28,-16.07,256],[29,-15.59,243],[29,-15.69,255],[29,-15.9,240],[30,-15.51,256],[30,-16.1,250],[30,-16.31,255],
[12,-16.43,246],[19,-16.34,246],[21,-16.26,240],[20,-16.46,256],[20,-16.61,250],[21,-16.61,250],[23,-16.26,252],[26,-16.31,242],[25,-16.61,246],
[2,-16.71,240],[4,-16.58,250],[3,-17.07,246],[3,-17.15,250],[9,-16.71,256],[9,-16.92,250],[10,-17.09,255],[14,-16.77,240],[18,-16.79,250],[20,-16.82,242],[21,-16.82,250],[22,-16.77,243],[22,-16.92,250],[22,-17.12,252],[26,-16.74,242],[27,-16.9,241],[28,-16.68,240],[24,-17.05,254],[17,-17.12,239],[15,-17.17,254],[15,-17.33,250],[26,-17.19,256],[26,-17.38,246],[30,-17.28,239],[20,-17.4,250],[20,-17.66,246],[24,-17.48,247],[27,-17.46,254],
[8,-17.56,256],[8,-17.68,254],[11,-17.53,248],[11,-17.79,250],[14,-17.56,256],[16,-17.56,250],[17,-17.53,250],[17,-17.68,252],[18,-17.68,246],[18,-17.89,250],[20,-17.5,256],[25,-17.79,250],[29,-17.63,243],[29,-17.86,256],[27,-17.84,242],
[1,-18.04,251],[7,-18.02,240],[10,-18.24,251],[9,-18.4,254],[4,-18.35,239],[12,-18.37,256],[14,-18.19,242],[14,-18.32,250],[15,-18.16,256],[16,-18.01,246],[16,-18.32,242],[15,-18.52,240],[19,-18.06,242],[20,-18.21,239],[21,-17.94,254],[23,-17.97,240],[23,-18.32,246],[25,-17.94,242],[26,-18.27,252],
[3,-18.6,240],[2,-18.7,252],[2,-19.03,254],[7,-18.86,254],[5,-18.96,242],[4,-19.16,240],[9,-18.86,242],[12,-18.7,250],[12,-18.91,240],[13,-18.76,252],[14,-18.86,254],[21,-18.91,241],[22,-18.81,243],[22,-18.6,255],[23,-18.67,256],[24,-18.65,256],[30,-19.09,245],
[16,-19.23,254],[19,-19.11,246],[19,-19.2,254],[23,-19.35,251],[18,-19.34,243],[18,-19.45,255],[17,-19.42,240],[14,-19.42,242],[15,-19.52,251],[16,-19.62,256],[17,-19.64,252],[12,-19.35,254],[12,-19.57,242],[11,-19.55,254],[11,-19.7,250],[10,-19.52,250],[10,-19.78,254],[9,-19.72,242],[8,-19.49,251],[3,-19.78,254],[4,-19.8,254],[25,-19.8,256],[29,-19.67,239],
[8,-20,240],[9,-20.18,252],[11,-20.08,242],[11,-20.26,242],[13,-19.93,246],[13,-20.21,242],[16,-20.03,254],[18,-19.88,241],[19,-19.98,240],[22,-19.93,256],[22,-20.08,250],[15,-20.21,240],[20,-20.32,240],[17,-20.34,252],[19,-20.37,252],[14,-20.42,240],[14,-20.62,250],[6,-20.51,241],[18,-20.69,256],[23,-20.54,254],
[2,-20.74,240],[11,-20.82,242],[13,-20.83,239],[10,-20.98,240],[5,-20.95,242],[3,-21.23,240],[4,-21.23,252],[6,-21.2,241],[8,-21.2,240],[10,-21.26,241],[13,-21.2,241],[17,-21.51,255],[21,-21.61,256],[28,-21.54,244],
[5,-21.61,254],[6,-21.54,241],[5,-21.82,241],[7,-21.71,242],[9,-21.71,252],[9,-21.82,241],[11,-21.61,239],[12,-21.68,239],[14,-21.64,252],[15,-21.68,252],[11,-21.95,256],[13,-21.82,256],[18,-21.94,252],[6,-22.02,252],[8,-22.0,241],[4,-22.12,241],[7,-22.07,241],[7,-22.28,241],[12,-22.28,252],[8,-22.48,241],[10,-22.63,239],[13,-22.6,252],[6,-22.7,252],[16,-22.68,252],[5,-23.19,252],[8,-23.3,253],[7,-23.78,253]
];

class ReflectivityPanel {

    constructor(_config, _data) {
        this.config = _config;
        this.data = _data;
        this.initVis();
    }

    initVis() {
        let vis = this;

        vis.top = 252;
        vis.bottom = 1238;

        vis.xScale = d3.scaleLinear().domain([1, 30]).range([vis.config.left, vis.config.right]);
        vis.yScale = d3.scaleLinear().domain([0, -25]).range([vis.top, vis.bottom]);
        vis.cScale = d3.scaleLinear().domain(vis.config.tempDomain).range(['#0000ff', '#00ff80']);
        vis.barScale = d3.scaleLinear().domain(vis.config.tempDomain).range([vis.bottom, vis.top]);

        vis.svg = d3.select('#chart');
        vis.g = vis.svg.append('g');
        vis.renderVis();
    }

    renderVis() {
        let vis = this;
        const axisColor = '#262626';

        // grid first, everything sits on top of it
        const gridY = d3.axisLeft(vis.yScale).tickValues(reflTicks).tickSize(-(vis.config.right - vis.config.left)).tickFormat('');
        const gridX = d3.axisBottom(vis.xScale).tickValues(elevTicks).tickSize(-(vis.bottom - vis.top)).tickFormat('');
        [[gridY, `translate(${vis.config.left},0)`], [gridX, `translate(0,${vis.bottom})`]].forEach(([axis, tr]) => {
            const g = vis.g.append('g').attr('transform', tr).call(axis);
            g.select('.domain').remove();
            g.selectAll('line').attr('stroke', '#e2e2e2').attr('stroke-width', 7.5);
        });

        const yAxis = d3.axisLeft(vis.yScale).tickValues(reflTicks).tickFormat(d => String(d))
            .tickSize(-14).tickSizeOuter(0).tickPadding(22);
        const xAxis = d3.axisBottom(vis.xScale).tickValues(elevTicks).tickFormat(d => String(d))
            .tickSize(-13).tickSizeOuter(0).tickPadding(39);

        const yG = vis.g.append('g').attr('transform', `translate(${vis.config.left},0)`).call(yAxis);
        const xG = vis.g.append('g').attr('transform', `translate(0,${vis.bottom})`).call(xAxis);
        [yG, xG].forEach(g => {
            g.attr('font-family', null).attr('font-size', null);
            g.select('.domain').attr('stroke', axisColor).attr('stroke-width', 7).attr('stroke-linecap', 'square');
            g.selectAll('line').attr('stroke', axisColor).attr('stroke-width', 7);
            g.selectAll('text').attr('fill', axisColor).attr('font-size', 50);
        });
        yG.selectAll('text').attr('dy', 20).attr('transform', 'scale(1,1.1)');
        xG.selectAll('text').attr('dy', 0).attr('y', 69).attr('x', 2).attr('transform', 'scale(1,1.1)');

        // scatter points
        vis.g.append('g').selectAll('ellipse')
            .data(vis.data)
            .join('ellipse')
            .attr('cx', d => vis.xScale(d[0]))
            .attr('cy', d => vis.yScale(d[1]))
            .attr('rx', 8.2)
            .attr('ry', 7.6)
            .attr('fill', d => vis.cScale(d[2]));

        // model curves
        const line = d3.line()
            .x(d => vis.xScale(d[0]))
            .y(d => vis.yScale(d[1]))
            .curve(d3.curveMonotoneX);

        vis.config.curves.forEach(c => {
            vis.g.append('path')
                .attr('d', line(d3.zip(c.elev, c.values)))
                .attr('fill', 'none')
                .attr('stroke', '#ff0000')
                .attr('stroke-width', c.width)
                .attr('stroke-dasharray', c.dash);
        });

        vis.renderColorbar();
        vis.renderText();
    }

    renderColorbar() {
        let vis = this;
        const cfg = vis.config;
        const gradId = `grad-${cfg.id}`;

        const grad = vis.svg.append('defs').append('linearGradient')
            .attr('id', gradId)
            .attr('x1', 0).attr('y1', 1).attr('x2', 0).attr('y2', 0);
        grad.selectAll('stop')
            .data(cfg.tempDomain)
            .join('stop')
            .attr('offset', (d, i) => i)
            .attr('stop-color', d => vis.cScale(d));

        vis.g.append('rect')
            .attr('x', cfg.barLeft).attr('y', vis.top)
            .attr('width', cfg.barRight - cfg.barLeft).attr('height', vis.bottom - vis.top)
            .attr('fill', `url(#${gradId})`)
            .attr('stroke', '#555').attr('stroke-width', 2);

        const barAxis = d3.axisRight(vis.barScale).tickValues(cfg.tempTicks).tickSize(-10).tickSizeOuter(0).tickPadding(19);
        const barG = vis.g.append('g').attr('transform', `translate(${cfg.barRight},0)`).call(barAxis);
        barG.attr('font-family', null).attr('font-size', null);
        barG.select('.domain').remove();
        barG.selectAll('line').attr('stroke', '#333').attr('stroke-width', 2);
        barG.selectAll('text').attr('fill', '#262626').attr('font-size', 50)
            .attr('dy', 19).attr('transform', 'scale(1,1.1)');

        // translucent grey patch over the labels of the open-water range
        vis.g.append('rect')
            .attr('x', cfg.patch[0]).attr('y', cfg.patch[1])
            .attr('width', cfg.patch[2] - cfg.patch[0]).attr('height', cfg.patch[3] - cfg.patch[1])
            .attr('fill', 'rgb(160,160,160)')
            .attr('opacity', 0.32);

        vis.g.append('text')
            .attr('x', cfg.barNote[1]).attr('y', cfg.barNote[2])
            .attr('font-size', 48)
            .attr('fill', '#808080')
            .text(cfg.barNote[0]);
    }

    renderText() {
        let vis = this;
        const cfg = vis.config;

        vis.g.append('text')
            .attr('x', cfg.titleX).attr('y', 233)
            .attr('text-anchor', 'middle')
            .attr('font-size', 60.5).attr('font-weight', 'bold').attr('fill', '#000')
            .text(cfg.title);

        vis.g.append('text')
            .attr('x', cfg.xLabelX).attr('y', 1392)
            .attr('text-anchor', 'middle')
            .attr('font-size', 61).attr('fill', '#262626')
            .text('elevation [deg]');

        if (cfg.yLabelX) {
            vis.g.append('text')
                .attr('transform', `translate(${cfg.yLabelX},745) rotate(-90)`)
                .attr('text-anchor', 'middle')
                .attr('font-size', 60).attr('fill', '#262626')
                .text('reflectivity [dB]');
        }
    }
}

const dashStyle = '31 29';
const dotStyle = '8 7';

const coCurves = [
    {elev: coElev, values: coSeaIce, width: 8, dash: dashStyle},
    {elev: coElev, values: coRoughSea, width: 8, dash: dotStyle},
    {elev: coElev, values: coSeaWater, width: 9, dash: null}
];
const crossCurves = [
    {elev: crossIceElev, values: crossSeaIce, width: 8, dash: dashStyle},
    {elev: crossElev, values: crossRoughSea, width: 8, dash: dotStyle},
    {elev: crossElev, values: crossSeaWater, width: 9, dash: null}
];

new ReflectivityPanel({
    id: 'ps-co', left: 244, right: 602, title: 'Co-polar', titleX: 424, xLabelX: 423, yLabelX: 118,
    barLeft: 658, barRight: 694, tempDomain: [271, 288], tempTicks: psTempTicks,
    patch: [694, 209, 807, 982], barNote: ['SIC = 100%', 646, 201], curves: coCurves
}, psCoPoints);

new ReflectivityPanel({
    id: 'ps-cross', left: 979, right: 1336.5, title: 'Cross-polar', titleX: 1159, xLabelX: 1156,
    barLeft: 1392, barRight: 1428, tempDomain: [271, 288], tempTicks: psTempTicks,
    patch: [1429, 214, 1545, 982], barNote: ['SIC = 100%', 1376, 205], curves: crossCurves
}, psCrossPoints);

new ReflectivityPanel({
    id: 'kph-co', left: 1755.5, right: 2113, title: 'Co-polar', titleX: 1936, xLabelX: 1933, yLabelX: 1630,
    barLeft: 2168, barRight: 2205, tempDomain: [238, 256], tempTicks: kphTempTicks,
    patch: [2208, 567, 2319, 1081], barNote: ['calm sea', 2157, 216], curves: coCurves
}, kphCoPoints);

new ReflectivityPanel({
    id: 'kph-cross', left: 2489, right: 2847, title: 'Cross-polar', titleX: 2670, xLabelX: 2669,
    barLeft: 2902, barRight: 2939, tempDomain: [238, 256], tempTicks: kphTempTicks,
    patch: [2940, 562, 3040, 1077], barNote: ['calm sea', 2892, 216], curves: crossCurves
}, kphCrossPoints);

// figure titles
const svg = d3.select('#chart');
svg.append('text').attr('transform', 'translate(869,114) scale(1,1.04)').attr('text-anchor', 'middle')
    .attr('font-size', 74.6).attr('font-weight', 'bold').text('Reflectivity Estimates at PS (2019)');
svg.append('text').attr('transform', 'translate(2380,120) scale(1,1.04)').attr('text-anchor', 'middle')
    .attr('font-size', 74.6).attr('font-weight', 'bold').text('Reflectivity Estimates at KPH (2020)');

// legend of the first panel
const legendRows = [
    {label: 'Sea Ice', dash: '24 8', width: 8},
    {label: 'Sea water', dash: null, width: 9},
    {label: 'Rough sea', dash: '7 5', width: 8}
];
const legendY = [1060, 1121, 1180];
const legendTextY = [1081, 1138, 1196];
const legend = svg.append('g').attr('fill', '#ff0000').attr('font-size', 47);
legend.append('text').attr('x', 338).attr('y', 1023).text('Model:');
legendRows.forEach((row, i) => {
    legend.append('line')
        .attr('x1', 258).attr('x2', 316).attr('y1', legendY[i]).attr('y2', legendY[i])
        .attr('stroke', '#ff0000').attr('stroke-width', row.width)
        .attr('stroke-dasharray', row.dash);
    legend.append('text').attr('x', 338).attr('y', legendTextY[i]).text(row.label);
});
</script>
</body>
</html>
